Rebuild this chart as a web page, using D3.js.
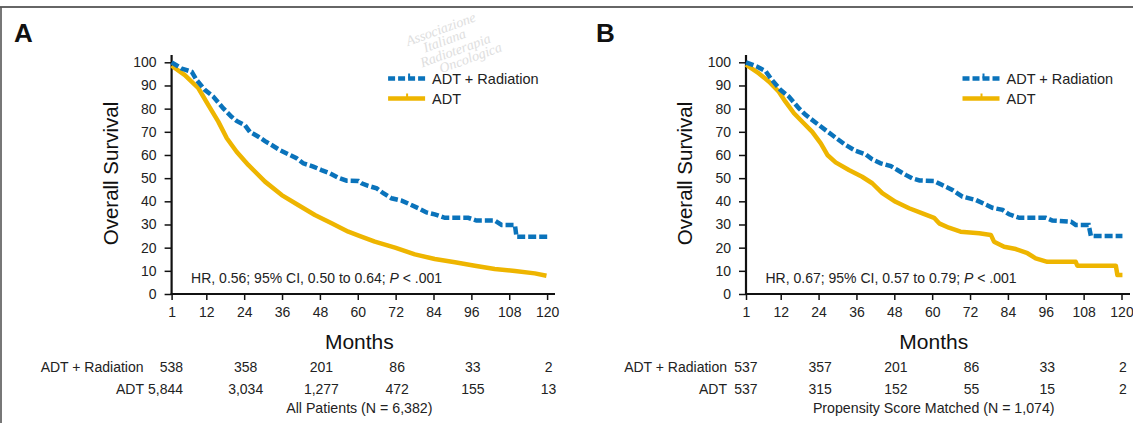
<!DOCTYPE html>
<html>
<head>
<meta charset="utf-8">
<script src="https://cdn.jsdelivr.net/npm/d3@7"></script>
<style>
  html, body { margin: 0; padding: 0; background: #fff; }
  svg { display: block; font-family: "Liberation Sans", Arial, Helvetica, sans-serif; }
</style>
</head>
<body>
<svg id="chart" width="1133" height="423"></svg>
<script>
// ---------------- DATA ----------------
const xTicks = [1, 12, 24, 36, 48, 60, 72, 84, 96, 108, 120];
const yTicks = [0, 10, 20, 30, 40, 50, 60, 70, 80, 90, 100];
const seriesNames = ["ADT + Radiation", "ADT"];

// Panel A: [month, % survival]
const survA_rad = [[1,100],[4.2,97.3],[7.4,95.9],[8.9,92.4],[11.6,88],[14.2,85.2],[17.4,80.1],[20,76.5],
  [21.6,74.7],[24.2,72.9],[25.8,70],[28.5,67.9],[30.6,66],[32.7,64.3],[35.3,62.1],[38.5,60],[40.6,58.6],
  [42.7,56.4],[45.9,55],[48.5,53.5],[51.2,52.1],[53.8,50.2],[56.5,48.9],[60.2,48.8],[61.2,47.8],[63.3,46.7],
  [66,45.6],[68.1,43.5],[70.7,41.3],[73.9,40.3],[76.5,38.7],[79.2,37],[81.8,35.2],[84.4,34.4],[87.6,32.9],
  [95,32.9],[97.6,31.7],[103.4,31.7],[105.6,29.8],[109.8,29.8],[110.3,24.7],[120.5,24.7]];
const survA_adt = [[1,98.5],[5.2,94.5],[9.5,88.8],[12.6,81.6],[15.8,74.4],[18.5,67.2],[21.6,61.4],[25.3,55.7],
  [30.6,48.5],[35.9,42.7],[41.1,38.4],[46.4,34.1],[51.7,30.5],[57,26.9],[60.7,25],[65.4,22.6],[71.8,20],
  [78.1,17.1],[84.4,15.1],[90.8,13.7],[97.1,12.2],[103.4,10.8],[109.8,9.9],[116.1,8.9],[119.8,7.9]];

// Panel B
const survB_rad = [[1,100],[4.6,98.1],[7.2,96.2],[8.8,93.1],[12,88],[14.6,85.2],[17.8,80.1],[19.9,77.3],
  [24.1,72.9],[28.3,68.6],[32.6,64.3],[35.7,61.8],[38.9,60.3],[41,58.1],[43.7,56.4],[46.9,55.2],[49,53.5],
  [51.6,51.4],[53.7,49.9],[56,49],[60.6,48.8],[63.2,47],[66.4,44.9],[69.6,42],[73.8,40.6],[79.1,37.2],
  [82.3,36.3],[84.4,34.4],[87.6,32.9],[96,32.9],[98.1,31.7],[104,31.2],[105.5,29.8],[109.6,29.8],
  [110.3,25],[120.3,25]];
const survB_adt = [[1,99],[5.1,95.2],[8.3,91.6],[11.4,87.3],[13.5,83],[16.2,78],[19.3,73.7],[22,70],[24.7,65],
  [26.8,60],[29.4,56.8],[33.6,53.5],[37.8,50.6],[41,47.8],[44.2,43.5],[48.4,39.8],[52.7,37],[56.9,34.8],
  [60.6,32.9],[62.2,30.5],[65.3,28.6],[69,26.9],[74.9,26.2],[78.6,25.5],[79.6,22.6],[82.8,20.4],[86.5,19.4],
  [90.2,17.6],[92.8,15.4],[96.5,13.9],[105.5,13.9],[106,12.2],[118.2,12.2],[118.7,8.2],[120.3,8.2]];

// Numbers at risk
const riskMonths = [1, 24, 48, 72, 96, 120];
const riskA_rad = ["538", "358", "201", "86", "33", "2"];
const riskA_adt = ["5,844", "3,034", "1,277", "472", "155", "13"];
const riskB_rad = ["537", "357", "201", "86", "33", "2"];
const riskB_adt = ["537", "315", "152", "55", "15", "2"];

const panelLetters = ["A", "B"];
const hrTexts = [["HR, 0.56; 95% CI, 0.50 to 0.64; ", "P", " < .001"],
                 ["HR, 0.67; 95% CI, 0.57 to 0.79; ", "P", " < .001"]];
const captions = ["All Patients (N = 6,382)", "Propensity Score Matched (N = 1,074)"];
const watermark = ["Associazione", "Italiana", "Radioterapia", "Oncologica"];

// ---------------- DRAWING ----------------
const BLUE = "#0a73bb", YELLOW = "#eeb500";
const svg = d3.select("#chart");

// frame (cropped page border)
svg.append("line").attr("x1", 0).attr("x2", 1133).attr("y1", 7).attr("y2", 7)
  .attr("stroke", "#333").attr("stroke-width", 1.6);
svg.append("line").attr("x1", 1).attr("x2", 1).attr("y1", 7).attr("y2", 423)
  .attr("stroke", "#555").attr("stroke-width", 1.6);

// faint watermark
const wm = svg.append("g").attr("transform", "translate(408,46) rotate(-20)")
  .attr("fill", "#dedede").attr("font-family", "'Liberation Serif', serif").attr("font-style", "italic")
  .attr("font-size", 14);
const wmOff = [[0, 0], [14, 12], [6, 25], [22, 37]];
watermark.forEach((w, k) => wm.append("text").attr("x", wmOff[k][0]).attr("y", wmOff[k][1]).text(w));

const panels = [
  { x0: 171.6, letterX: 14, rad: survA_rad, adt: survA_adt, riskRad: riskA_rad, riskAdt: riskA_adt,
    labelRad: 143.5, labelAdt: 144, xAxisEnd: 555 },
  { x0: 746.0, letterX: 596, rad: survB_rad, adt: survB_adt, riskRad: riskB_rad, riskAdt: riskB_adt,
    labelRad: 727, labelAdt: 727, xAxisEnd: 1130 }
];

panels.forEach((p, i) => {
  const g = svg.append("g");
  const x = d3.scaleLinear().domain([1, 120]).range([p.x0, p.x0 + 375.5]);
  const y = d3.scaleLinear().domain([0, 100]).range([294, 62.3]);

  // panel letter
  g.append("text").attr("x", p.letterX).attr("y", 42).attr("font-size", 26).attr("font-weight", "bold")
    .attr("fill", "#111").text(panelLetters[i]);

  // y axis
  const ya = g.append("g").attr("transform", `translate(${x(1)},0)`)
    .call(d3.axisLeft(y).tickValues(yTicks).tickSize(7).tickSizeOuter(0).tickPadding(8));
  ya.select(".domain").remove();
  ya.selectAll(".tick line").attr("stroke", "#111").attr("stroke-width", 1.5);
  ya.selectAll(".tick text").attr("font-size", 14).attr("fill", "#222").attr("font-family", "inherit");
  g.append("line").attr("x1", x(1)).attr("x2", x(1)).attr("y1", 55).attr("y2", y(0) + 1)
    .attr("stroke", "#111").attr("stroke-width", 2.2);

  // x axis
  const xa = g.append("g").attr("transform", `translate(0,${y(0)})`)
    .call(d3.axisBottom(x).tickValues(xTicks).tickSize(6).tickSizeOuter(0).tickPadding(7));
  xa.select(".domain").remove();
  xa.selectAll(".tick line").attr("stroke", "#111").attr("stroke-width", 1.5);
  xa.selectAll(".tick text").attr("font-size", 14).attr("fill", "#222").attr("font-family", "inherit");
  g.append("line").attr("x1", x(1) - 1).attr("x2", p.xAxisEnd).attr("y1", y(0)).attr("y2", y(0))
    .attr("stroke", "#111").attr("stroke-width", 2.2);

  // axis titles
  g.append("text").attr("x", x(60.5)).attr("y", 349).attr("text-anchor", "middle")
    .attr("font-size", 21).attr("fill", "#111").text("Months");
  g.append("text").attr("transform", `translate(${x(1) - 54},${y(52)}) rotate(-90)`)
    .attr("text-anchor", "middle").attr("font-size", 20.5).attr("fill", "#111").text("Overall Survival");

  // curves
  const line = d3.line().x(d => x(d[0])).y(d => y(d[1])).curve(d3.curveLinear);
  g.append("path").datum(p.adt).attr("d", line).attr("fill", "none").attr("stroke", YELLOW)
    .attr("stroke-width", 4.5).attr("stroke-linejoin", "round");
  g.append("path").datum(p.rad).attr("d", line).attr("fill", "none").attr("stroke", BLUE)
    .attr("stroke-width", 4.5).attr("stroke-dasharray", "8,3");

  // legend
  const lx = x(1) + 216.5, lyy = [78.5, 98.5];
  const lg = g.append("g");
  lg.append("line").attr("x1", lx).attr("x2", lx + 37).attr("y1", lyy[0]).attr("y2", lyy[0])
    .attr("stroke", BLUE).attr("stroke-width", 4.5).attr("stroke-dasharray", "7,3");
  lg.append("line").attr("x1", lx + 21).attr("x2", lx + 21).attr("y1", lyy[0] - 5).attr("y2", lyy[0])
    .attr("stroke", BLUE).attr("stroke-width", 2);
  lg.append("line").attr("x1", lx).attr("x2", lx + 37).attr("y1", lyy[1]).attr("y2", lyy[1])
    .attr("stroke", YELLOW).attr("stroke-width", 4.5);
  lg.append("line").attr("x1", lx + 19).attr("x2", lx + 19).attr("y1", lyy[1] - 5).attr("y2", lyy[1])
    .attr("stroke", YELLOW).attr("stroke-width", 2);
  seriesNames.forEach((s, k) => {
    lg.append("text").attr("x", lx + 44).attr("y", lyy[k] + 5).attr("font-size", 14.5)
      .attr("fill", "#222").text(s);
  });

  // HR annotation
  const ht = g.append("text").attr("x", x(1) + 19.5).attr("y", 282.5).attr("font-size", 14).attr("fill", "#222");
  hrTexts[i].forEach((t, k) => ht.append("tspan").attr("font-style", k === 1 ? "italic" : "normal").text(t));

  // number at risk table
  const rows = [{ label: seriesNames[0], vals: p.riskRad, y: 371.5, lx: p.labelRad },
                { label: seriesNames[1], vals: p.riskAdt, y: 394, lx: p.labelAdt }];
  rows.forEach(r => {
    g.append("text").attr("x", r.lx).attr("y", r.y).attr("text-anchor", "end").attr("font-size", 14)
      .attr("fill", "#222").text(r.label);
    r.vals.forEach((v, k) => {
      const m = riskMonths[k];
      g.append("text").attr("x", k === 0 ? x(m) + 11.5 : x(m) + 1.5).attr("y", r.y)
        .attr("text-anchor", k === 0 ? "end" : "middle").attr("font-size", 14).attr("fill", "#222").text(v);
    });
  });
  g.append("text").attr("x", x(60.5)).attr("y", 413).attr("text-anchor", "middle").attr("font-size", 14.2)
    .attr("fill", "#222").text(captions[i]);
});
</script>
</body>
</html>
